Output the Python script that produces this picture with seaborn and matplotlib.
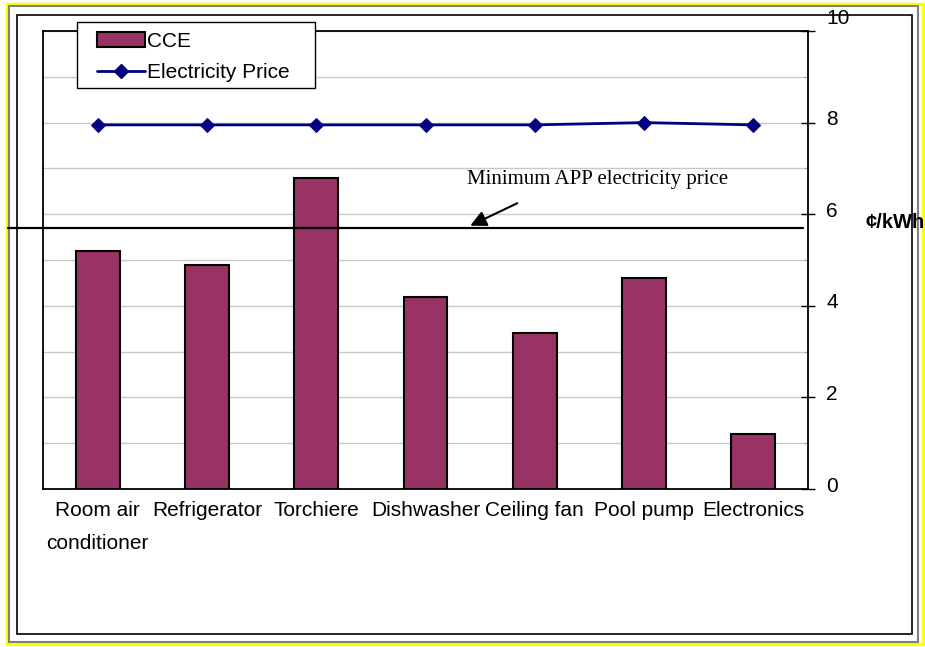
import matplotlib
matplotlib.use("Agg")
import numpy as np
import pandas as pd
import matplotlib.pyplot as plt
import matplotlib.patches as mpatches
import matplotlib.lines as mlines
import matplotlib.transforms as mtransforms
import seaborn as sns

# data
categories = ["Room air\nconditioner", "Refrigerator", "Torchiere", "Dishwasher",
              "Ceiling fan", "Pool pump", "Electronics"]
cce = [5.2, 4.9, 6.8, 4.2, 3.4, 4.6, 1.2]
electricity_price = [7.95, 7.95, 7.95, 7.95, 7.95, 8.0, 7.95]
min_app_price = 5.7
y_ticks = [0, 2, 4, 6, 8, 10]

BAR_COLOR = "#993366"
LINE_COLOR = "#000080"
W, H = 925, 647


def fx(px):
    return px / W


def fy(py):
    return 1 - py / H


sns.set_style("white")
plt.rcParams['font.family'] = ['Liberation Sans', 'DejaVu Sans']
plt.rcParams.update({"text.color": "black", "xtick.color": "black",
                     "ytick.color": "black", "axes.labelcolor": "black"})

fig = plt.figure(figsize=(W / 100, H / 100), dpi=100)

# chart frames (yellow / gray / black)
fig.add_artist(mpatches.Rectangle((fx(7), fy(644)), fx(923) - fx(7), fy(4) - fy(644),
                                  transform=fig.transFigure, fill=False,
                                  edgecolor="#ffff00", lw=2.5, zorder=0))
fig.add_artist(mpatches.Rectangle((fx(9), fy(642)), fx(918) - fx(9), fy(6) - fy(642),
                                  transform=fig.transFigure, fill=False,
                                  edgecolor="#808080", lw=1.5, zorder=0))
fig.add_artist(mpatches.Rectangle((fx(17), fy(634)), fx(912) - fx(17), fy(15) - fy(634),
                                  transform=fig.transFigure, fill=False,
                                  edgecolor="black", lw=1.2, zorder=0))

ax = fig.add_axes([fx(43), fy(489), fx(808) - fx(43), fy(31) - fy(489)])
ax.set_facecolor("none")

df = pd.DataFrame({"item": categories, "CCE": cce, "price": electricity_price})

sns.barplot(data=df, x="item", y="CCE", color=BAR_COLOR, saturation=1, width=0.4,
            edgecolor="black", linewidth=1.5, ax=ax, zorder=2)
sns.lineplot(data=df, x="item", y="price", sort=False, color=LINE_COLOR, linewidth=2,
             marker="D", markersize=7, markeredgecolor=LINE_COLOR, ax=ax, zorder=4)

ax.set_xlim(-0.5, len(categories) - 0.5)
ax.set_ylim(0, 10)
ax.set_xlabel("")
ax.set_ylabel("")

# right hand value axis
ax.yaxis.tick_right()
ax.set_yticks(y_ticks, labels=[str(v) for v in y_ticks])
ax.set_yticks([1, 3, 5, 7, 9], minor=True)
ax.grid(axis="y", which="both", color="#c8c8c8", lw=1)
ax.set_axisbelow(True)
ax.tick_params(axis="y", which="major", direction="inout", length=10, width=1,
               pad=8, labelsize=15, right=True, left=False, color="black")
ax.tick_params(axis="y", which="minor", direction="in", length=3, color="#999999",
               right=True, left=False)
for i, t in enumerate(ax.yaxis.get_major_ticks()):
    dy = 14 if y_ticks[i] == 10 else 5
    t.label2.set_transform(t.label2.get_transform() +
                           mtransforms.ScaledTranslation(0, dy / 100, fig.dpi_scale_trans))

# category axis: ticks between the categories
ax.tick_params(axis="x", which="major", length=0, pad=9, labelsize=15)
ax.set_xticks(np.arange(0.5, len(categories) - 1, 1.0), minor=True)
ax.tick_params(axis="x", which="minor", direction="in", length=7, width=1, color="black")
for lab in ax.get_xticklabels():
    lab.set_linespacing(1.9)

for s in ax.spines.values():
    s.set_visible(True)
    s.set_color("black")
    s.set_linewidth(1.3)

# minimum APP electricity price reference line
ax.axhline(min_app_price, xmin=(8 - 43) / 765, xmax=(803 - 43) / 765, color="black",
           lw=1.6, clip_on=False, zorder=5)
ax.text(4.57, 6.75, "Minimum APP electricity price", family=["Liberation Serif", "DejaVu Serif"],
        fontsize=15, ha="center", va="center")
ax.annotate("", xy=(3.41, min_app_price + 0.05), xytext=(3.84, 6.24),
            arrowprops=dict(arrowstyle="-|>", color="black", lw=1.5,
                            mutation_scale=24, shrinkA=0, shrinkB=0))

fig.text(fx(865), fy(222), "¢/kWh", fontsize=14.5, fontweight="bold", va="center", ha="left")

# legend with a square frame
fig.add_artist(mpatches.Rectangle((fx(77), fy(88)), fx(315) - fx(77), fy(22) - fy(88),
                                  transform=fig.transFigure, facecolor="white",
                                  edgecolor="black", lw=1, zorder=3))
handles = [mpatches.Patch(facecolor=BAR_COLOR, edgecolor="black", lw=1.5),
           mlines.Line2D([], [], color=LINE_COLOR, lw=2, marker="D", markersize=7)]
fig.legend(handles, ["CCE", "Electricity Price"], loc="upper left",
           bbox_to_anchor=(fx(97), fy(32)), frameon=False, borderpad=0, borderaxespad=0,
           handlelength=2.3, handleheight=0.75, handletextpad=0.1,
           labelspacing=0.58, fontsize=15)

fig.savefig("out.png", dpi=100)
